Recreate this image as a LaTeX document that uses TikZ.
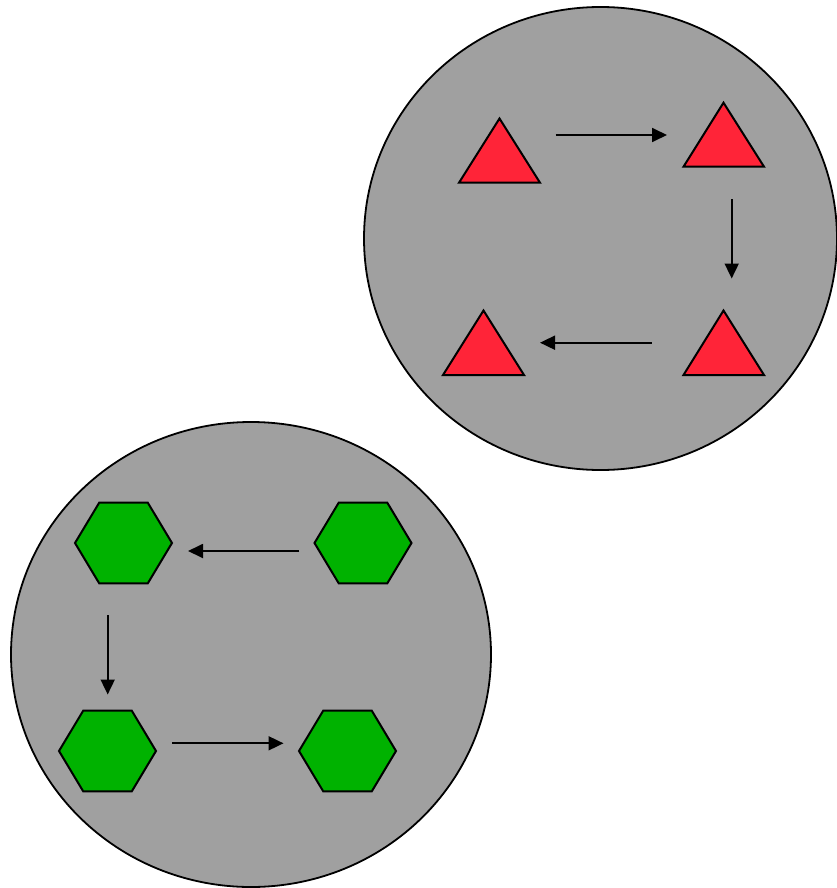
\documentclass[tikz,border=0pt]{standalone}
\usetikzlibrary{arrows.meta}
\definecolor{poolgray}{RGB}{160,160,160}
\definecolor{tokred}{RGB}{255,36,56}
\definecolor{tokgreen}{RGB}{0,178,0}
\tikzset{
  pool/.style={draw=black, line width=1.8pt, fill=poolgray},
  tri/.style={draw=black, line width=2pt, fill=tokred, line join=miter},
  hexa/.style={draw=black, line width=2pt, fill=tokgreen, line join=miter},
  flow/.style={draw=black, line width=1.8pt, -{Triangle[length=15pt, width=14pt]}}
}
\begin{document}
\begin{tikzpicture}[x=1pt, y=-1pt]
\useasboundingbox (0,0) rectangle (837,888);

% pools
\draw[pool] (600.5,238.5) ellipse [x radius=236.5, y radius=231.5];
\draw[pool] (251,654.5) ellipse [x radius=240, y radius=232.5];

% red triangles: apex, base-left, base-right
\draw[tri] (499.5,118.5) -- (459,182.7) -- (540,182.7) -- cycle;
\draw[tri] (723.5,102.7) -- (683.5,166.7) -- (764,166.7) -- cycle;
\draw[tri] (723.5,310.5) -- (683.5,375) -- (764,375) -- cycle;
\draw[tri] (483.5,310.5) -- (443,375) -- (524,375) -- cycle;

% green hexagons: (cx,cy) with half-width 48.5, half-height 40.3
\foreach \cx/\cy in {123.5/543, 363/543, 107.5/751, 347.5/751}{
  \draw[hexa] (\cx-48.5,\cy) -- (\cx-24.3,\cy-40.3) -- (\cx+24.3,\cy-40.3)
     -- (\cx+48.5,\cy) -- (\cx+24.3,\cy+40.3) -- (\cx-24.3,\cy+40.3) -- cycle;
}

% arrow endpoints
\coordinate (r1s) at (555.7,135);  \coordinate (r1e) at (667,135);
\coordinate (r2s) at (731.7,199);  \coordinate (r2e) at (731.7,278.5);
\coordinate (r3s) at (651.7,342.7);\coordinate (r3e) at (540,342.7);
\coordinate (g1s) at (299.3,551);  \coordinate (g1e) at (188,551);
\coordinate (g2s) at (107.7,615);  \coordinate (g2e) at (107.7,694.5);
\coordinate (g3s) at (172,743.3);  \coordinate (g3e) at (283.5,743.3);

\draw[flow] (r1s) -- (r1e);
\draw[flow] (r2s) -- (r2e);
\draw[flow] (r3s) -- (r3e);
\draw[flow] (g1s) -- (g1e);
\draw[flow] (g2s) -- (g2e);
\draw[flow] (g3s) -- (g3e);
\end{tikzpicture}
\end{document}
